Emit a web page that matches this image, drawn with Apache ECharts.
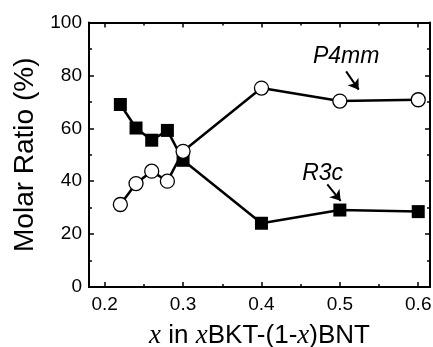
<!DOCTYPE html>
<html><head><meta charset="utf-8">
<script src="https://cdn.jsdelivr.net/npm/echarts@6/dist/echarts.min.js"></script>
<style>html,body{margin:0;padding:0;background:#fff}#c{width:433px;height:347px}</style>
</head><body><div id="c"></div>
<script>
var xValues = [0.22, 0.24, 0.26, 0.28, 0.30, 0.40, 0.50, 0.60];
var r3c = [69.0, 60.1, 55.5, 59.2, 47.9, 24.1, 29.1, 28.5];
var p4mm = [31.2, 39.1, 43.8, 40.0, 51.3, 75.2, 70.3, 70.8];
var xMajor = [0.2, 0.3, 0.4, 0.5, 0.6];
var xMinor = [0.25, 0.35, 0.45, 0.55];
var annoLabels = ['P4mm', 'R3c'];
var annoPos = [[0.508, 87.0], [0.478, 43.0]];
var arrows = [[[0.508, 81.5], [0.524, 74.6]], [[0.484, 38.8], [0.501, 32.6]]];

var FONT = 'Liberation Sans, Arial, sans-serif';
var chart = echarts.init(document.getElementById('c'), null, {renderer: 'canvas'});
function zip(xs, ys) { return xs.map(function (x, i) { return [x, ys[i]]; }); }
function xAx(pos, ticks, len, showLabel, extra) {
  var a = {
    type: 'value', position: pos, min: 0.18, max: 0.615,
    axisLine: {show: true, onZero: false, lineStyle: {color: '#000', width: 2}},
    axisTick: {show: true, inside: true, length: len, customValues: ticks, lineStyle: {color: '#000', width: 1.5}},
    axisLabel: {show: showLabel, customValues: ticks, margin: 8, color: '#000', fontSize: 19, fontFamily: FONT,
      formatter: function (v) { return v.toFixed(1); }},
    splitLine: {show: false}
  };
  for (var k in extra) a[k] = extra[k];
  return a;
}
var option = {
  backgroundColor: '#fff',
  animation: false,
  grid: {left: 89, right: 3, top: 22.5, bottom: 60, outerBoundsMode: 'none', containLabel: false},
  xAxis: [
    xAx('bottom', xMajor, 5, true, {
      name: '{i|x} in {i|x}BKT-(1-{i|x})BNT', nameLocation: 'middle', nameGap: 35,
      nameTextStyle: {color: '#000', fontSize: 26, fontFamily: FONT,
        rich: {i: {fontFamily: 'Liberation Serif, Times New Roman, serif', fontStyle: 'italic', fontSize: 27, color: '#000'}}}
    }),
    xAx('bottom', xMinor, 3, false, {}),
    xAx('top', xMajor, 5, false, {}),
    xAx('top', xMinor, 3, false, {})
  ],
  yAxis: [
    {type: 'value', position: 'left', min: 0, max: 100, interval: 20,
      name: 'Molar Ratio (%)', nameLocation: 'middle', nameGap: 45,
      nameTextStyle: {color: '#000', fontSize: 28, fontFamily: FONT},
      axisLine: {show: true, onZero: false, lineStyle: {color: '#000', width: 2}},
      axisTick: {show: true, inside: true, length: 5, lineStyle: {color: '#000', width: 1.5}},
      minorTick: {show: true, splitNumber: 2, length: 3, lineStyle: {color: '#000', width: 1.5}},
      axisLabel: {margin: 7, color: '#000', fontSize: 19, fontFamily: FONT},
      splitLine: {show: false}, minorSplitLine: {show: false}},
    {type: 'value', position: 'right', min: 0, max: 100, interval: 20,
      axisLine: {show: true, onZero: false, lineStyle: {color: '#000', width: 2}},
      axisTick: {show: true, inside: true, length: 5, lineStyle: {color: '#000', width: 1.5}},
      minorTick: {show: true, splitNumber: 2, length: 3, lineStyle: {color: '#000', width: 1.5}},
      axisLabel: {show: false}, splitLine: {show: false}}
  ],
  series: [
    {name: 'R3c', type: 'line', data: zip(xValues, r3c), symbol: 'rect', symbolSize: 13,
      itemStyle: {color: '#000', borderColor: '#000', borderWidth: 0}, lineStyle: {color: '#000', width: 2.5}, z: 3},
    {name: 'P4mm', type: 'line', data: zip(xValues, p4mm), symbol: 'circle', symbolSize: 14,
      itemStyle: {color: '#fff', borderColor: '#000', borderWidth: 1.3}, lineStyle: {color: '#000', width: 2.5}, z: 4},
    {name: 'anno', type: 'scatter', symbolSize: 0, silent: true, z: 5,
      itemStyle: {opacity: 1, color: '#000'},
      data: annoPos.map(function (p, i) { return {value: p, name: annoLabels[i]}; }),
      label: {show: true, position: 'inside', formatter: '{b}', color: '#000', fontSize: 23,
        fontStyle: 'italic', fontFamily: FONT, opacity: 1},
      markLine: {silent: true, symbol: ['none', 'arrow'], symbolSize: 10, label: {show: false},
        itemStyle: {color: '#000', opacity: 1},
        lineStyle: {color: '#000', width: 2, type: 'solid', opacity: 1},
        data: arrows.map(function (a) { return [{coord: a[0]}, {coord: a[1]}]; })}}
  ]
};
chart.setOption(option);
</script></body></html>
